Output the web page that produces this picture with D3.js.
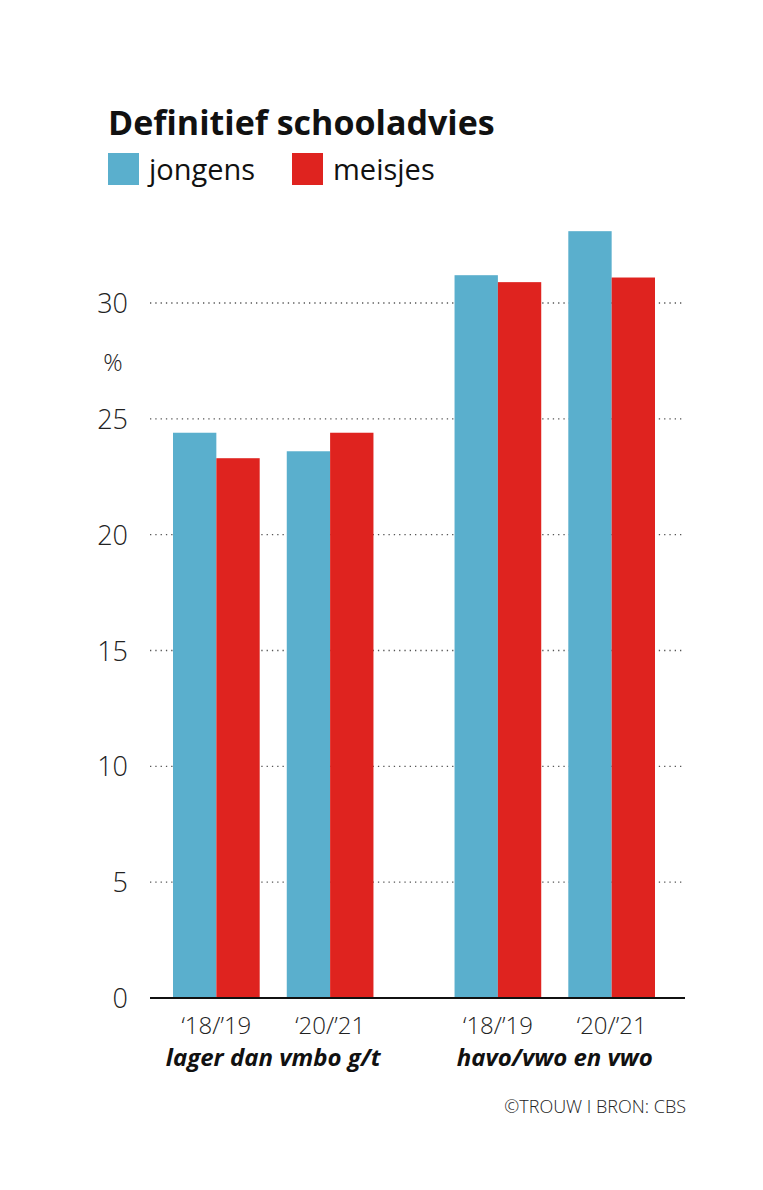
<!DOCTYPE html>
<html><head><meta charset="utf-8">
<script src="https://cdn.jsdelivr.net/npm/d3@7"></script>
<style>body{margin:0;background:#fff;font-family:"Open Sans",sans-serif}</style>
</head><body>
<script>
var groups = ["lager dan vmbo g/t", "havo/vwo en vwo"];
var periods = ["\u201818/\u201919", "\u201820/\u201921"];
var jongens = [[24.4, 23.6], [31.2, 33.1]];
var meisjes = [[23.3, 24.4], [30.9, 31.1]];
var ticks = [0, 5, 10, 15, 20, 25, 30];
var colors = { jongens: "#5aafcd", meisjes: "#df231f" };

var svg = d3.select("body").append("svg").attr("width", 763).attr("height", 1190);

var y = d3.scaleLinear().domain([0, 30]).range([998, 303]);
var x0 = d3.scaleBand().domain(groups).range([173, 655]).paddingInner(0.288).paddingOuter(0);
var x1 = d3.scaleBand().domain(periods).range([0, x0.bandwidth()]).paddingInner(0.238);
var x2 = d3.scaleBand().domain(["jongens", "meisjes"]).range([0, x1.bandwidth()]);

// title + legend
svg.append("text").attr("x", 108).attr("y", 135).attr("font-size", 34).attr("font-weight", 700)
  .attr("fill", "#111").text("Definitief schooladvies");
[["jongens", 108], ["meisjes", 292]].forEach(function (l) {
  svg.append("rect").attr("x", l[1]).attr("y", 153).attr("width", 31).attr("height", 32).attr("fill", colors[l[0]]);
  svg.append("text").attr("x", l[1] + 41).attr("y", 180).attr("font-size", 29).attr("fill", "#111").text(l[0]);
});

// grid
ticks.filter(function (t) { return t > 0; }).forEach(function (t) {
  svg.append("line").attr("x1", 150).attr("x2", 685).attr("y1", y(t)).attr("y2", y(t))
    .attr("stroke", "#555").attr("stroke-width", 1.3).attr("stroke-dasharray", "1.3,4");
});
ticks.forEach(function (t) {
  svg.append("text").attr("x", 128).attr("y", y(t) + 10).attr("text-anchor", "end")
    .attr("font-size", 27).attr("font-weight", 300).attr("fill", "#222").text(t);
});
svg.append("text").attr("x", 113).attr("y", y(27.5) + 10).attr("text-anchor", "middle")
  .attr("font-size", 24).attr("font-weight", 300).attr("fill", "#222").text("%");

// bars
groups.forEach(function (g, gi) {
  periods.forEach(function (p, pi) {
    var bx = x0(g) + x1(p);
    [["jongens", jongens], ["meisjes", meisjes]].forEach(function (s) {
      var v = s[1][gi][pi];
      svg.append("rect").attr("x", bx + x2(s[0])).attr("width", x2.bandwidth())
        .attr("y", y(v)).attr("height", y(0) - y(v)).attr("fill", colors[s[0]]);
    });
    svg.append("text").attr("x", bx + x1.bandwidth() / 2).attr("y", 1034).attr("text-anchor", "middle")
      .attr("font-size", 24).attr("font-weight", 300).attr("fill", "#222").text(p);
  });
  svg.append("text").attr("x", x0(g) + x0.bandwidth() / 2).attr("y", 1066).attr("text-anchor", "middle")
    .attr("font-size", 24).attr("font-weight", 700).attr("font-style", "italic").attr("fill", "#111").text(g);
});

svg.append("line").attr("x1", 150).attr("x2", 685).attr("y1", y(0)).attr("y2", y(0))
  .attr("stroke", "#111").attr("stroke-width", 2);

svg.append("text").attr("x", 686).attr("y", 1113).attr("text-anchor", "end")
  .attr("font-size", 18).attr("font-weight", 300).attr("fill", "#222").text("\u00a9TROUW I BRON: CBS");
</script>
</body></html>
